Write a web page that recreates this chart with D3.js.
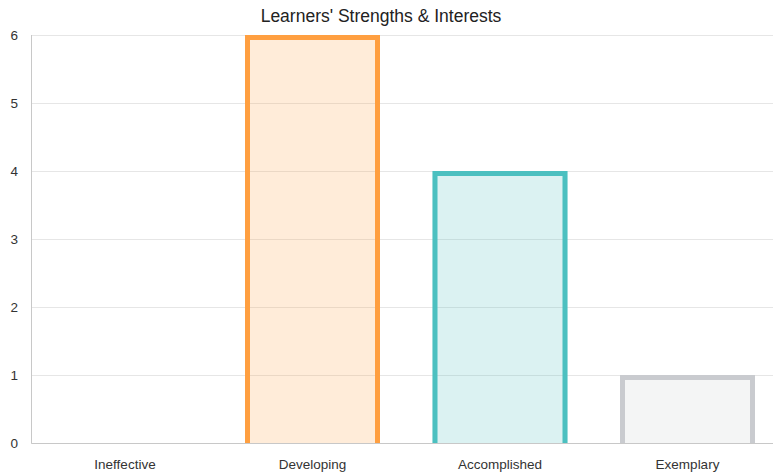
<!DOCTYPE html>
<html>
<head>
<meta charset="utf-8">
<script src="https://cdn.jsdelivr.net/npm/d3@7"></script>
<style>
  html, body { margin: 0; padding: 0; background: #fff; overflow: hidden; }
  svg { display: block; }
  text { font-family: "Liberation Sans", Arial, Helvetica, sans-serif; }
</style>
</head>
<body>
<svg id="chart" width="773" height="476"></svg>
<script>
const title = "Learners' Strengths & Interests";
const categories = ["Ineffective", "Developing", "Accomplished", "Exemplary"];
const values = [0, 6, 4, 1];
const borderColors = ["rgb(255,99,132)", "rgb(255,159,64)", "rgb(75,192,192)", "rgb(201,203,207)"];
const fillColors = ["rgba(255,99,132,0.2)", "rgba(255,159,64,0.2)", "rgba(75,192,192,0.2)", "rgba(201,203,207,0.2)"];
const yTicks = [0, 1, 2, 3, 4, 5, 6];

(function () {
const svg = d3.select("#chart");
const plotLeft = 31.25, plotRight = 781.25, plotTop = 35, plotBottom = 443;

const x = d3.scaleBand().domain(categories).range([plotLeft, plotRight]).paddingInner(0).paddingOuter(0);
const y = d3.scaleLinear().domain([0, 6]).range([plotBottom, plotTop]);

// gridlines
svg.append("g").selectAll("line").data(yTicks).join("line")
  .attr("x1", plotLeft).attr("x2", plotRight)
  .attr("y1", d => Math.round(y(d)) + 0.5).attr("y2", d => Math.round(y(d)) + 0.5)
  .attr("stroke", "#e6e6e6").attr("stroke-width", 1);

// bars
const bw = x.bandwidth() * 0.72;
const bw2 = 5;
const bars = svg.append("g").selectAll("g").data(values).join("g");
bars.append("rect")
  .attr("x", (d, i) => x(categories[i]) + (x.bandwidth() - bw) / 2)
  .attr("y", d => y(d))
  .attr("width", bw)
  .attr("height", d => y(0) - y(d))
  .attr("fill", (d, i) => fillColors[i]);
bars.filter(d => d > 0).append("path")
  .attr("d", function (d) {
    const i = values.indexOf(d);
    const x0 = x(categories[i]) + (x.bandwidth() - bw) / 2 + bw2 / 2;
    const x1 = x0 + bw - bw2;
    const yt = y(d) + bw2 / 2;
    const yb = y(0);
    return `M${x0},${yb}L${x0},${yt}L${x1},${yt}L${x1},${yb}`;
  })
  .attr("fill", "none")
  .attr("stroke", d => borderColors[values.indexOf(d)])
  .attr("stroke-width", bw2)
  .attr("stroke-linejoin", "miter");

// axis lines
svg.append("line").attr("x1", 31.5).attr("x2", 31.5)
  .attr("y1", plotTop).attr("y2", plotBottom)
  .attr("stroke", "#c8c8c8").attr("stroke-width", 1);
svg.append("line").attr("x1", plotLeft).attr("x2", plotRight)
  .attr("y1", plotBottom + 0.5).attr("y2", plotBottom + 0.5)
  .attr("stroke", "#c8c8c8").attr("stroke-width", 1);

// y tick labels
svg.append("g").selectAll("text").data(yTicks).join("text")
  .attr("x", 18).attr("y", d => y(d))
  .attr("dy", "0.35em")
  .attr("text-anchor", "end")
  .attr("font-size", "13.5px")
  .attr("fill", "#333")
  .text(d => d);

// x tick labels
svg.append("g").selectAll("text").data(categories).join("text")
  .attr("x", d => x(d) + x.bandwidth() / 2)
  .attr("y", 469)
  .attr("text-anchor", "middle")
  .attr("font-size", "13.5px")
  .attr("fill", "#333")
  .text(d => d);

// title
svg.append("text")
  .attr("x", 381).attr("y", 21.5)
  .attr("text-anchor", "middle")
  .attr("font-size", "17.5px")
  .attr("fill", "#222")
  .text(title);
})();
</script>
</body>
</html>
